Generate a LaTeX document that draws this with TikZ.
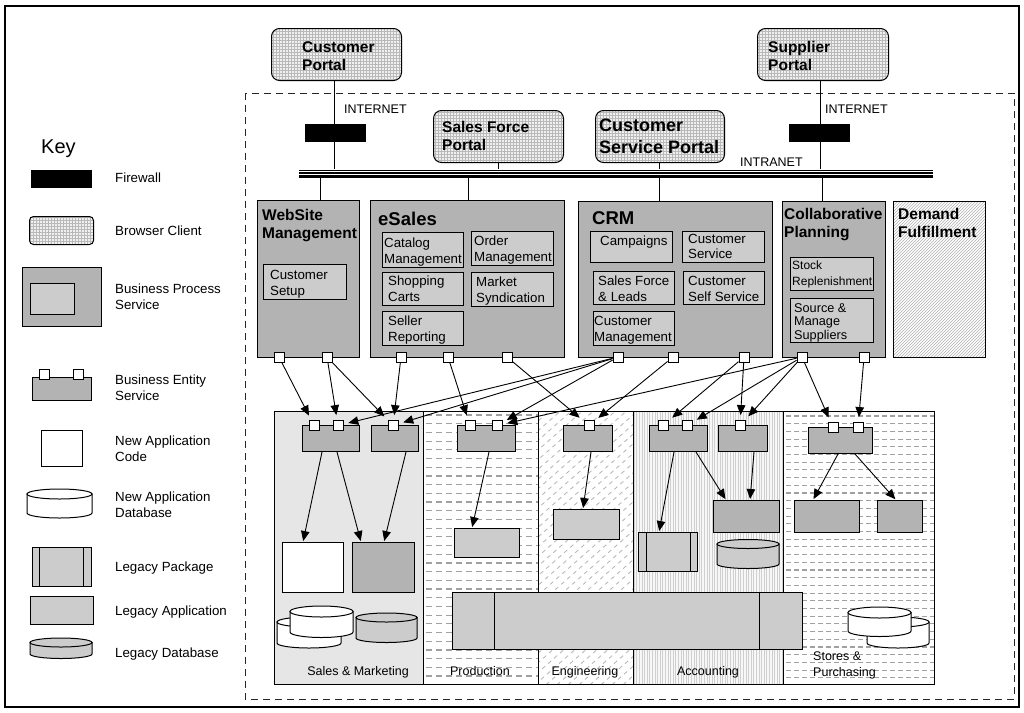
\documentclass[tikz,border=0pt]{standalone}
\usepackage{fontspec}
\setmainfont{Liberation Sans}
\usetikzlibrary{arrows.meta,patterns}
\definecolor{bpg}{HTML}{B3B3B3}
\definecolor{subg}{HTML}{CCCCCC}
\definecolor{smg}{HTML}{E6E6E6}
\definecolor{hatch}{HTML}{A0A0A0}
\newcommand{\fs}[2]{\fontsize{#1}{#2}\selectfont}
\newcommand{\bx}[6]{%
  \pgfmathsetmacro{\mybw}{#4-#2}\pgfmathsetmacro{\mybh}{#5-#3}%
  \node[box,#6,minimum width=\mybw,minimum height=\mybh] (#1) at (#2,#3) {};}
\newcommand{\mycyl}[6]{%
  \pgfmathsetmacro{\mycx}{(#1+#2)/2}\pgfmathsetmacro{\myrx}{(#2-#1)/2}%
  \draw[line width=1,fill=#5] (#1,#3) -- (#1,#4) arc[start angle=180,end angle=0,x radius=\myrx,y radius=#6] -- (#2,#3) -- cycle;
  \draw[line width=1,fill=#5] (\mycx,#3) ellipse [x radius=\myrx,y radius=#6];}
\begin{document}
\begin{tikzpicture}[x=1pt,y=-1pt,
  font=\fs{13.3}{16},
  box/.style={draw,line width=1,inner sep=0,anchor=north west},
  port/.style={draw,fill=white,line width=0.9,minimum size=10,inner sep=0},
  arr/.style={-{Triangle[length=10pt,width=8.5pt]},line width=0.9,shorten >=5pt},
  arrb/.style={-{Triangle[length=10pt,width=8.5pt]},line width=0.9,shorten >=1pt},
  txt/.style={anchor=north west,inner sep=0,align=left},
  ttl/.style={txt,font=\fs{15.5}{18}\bfseries},
  big/.style={txt,font=\fs{18.5}{22}\bfseries},
  sml/.style={txt,font=\fs{12.5}{16}},
  portal/.style={rounded corners=8,preaction={fill=gray!12},pattern=grid,pattern color=gray!55},
  link/.style={line width=1}]
\useasboundingbox (0,0) rectangle (1024,712);
\fill[white] (0,0) rectangle (1024,712);
\draw[line width=1.2] (5,6) rectangle (1019,707);
\draw[line width=1,dash pattern=on 7pt off 5pt,draw=black!85] (245,93) rectangle (1014,699);

% ---------- Key ----------
\node[txt,font=\fs{20}{24}] (keyt) at (41,140) {Key};
\bx{kfw}{31}{170}{91}{187}{fill=black}
\node[txt] (kfwl) at (115,173) {Firewall};
\bx{kbc}{29}{216}{93}{244}{portal,rounded corners=4}
\node[txt] (kbcl) at (115,226) {Browser Client};
\bx{kbp}{22}{267}{101}{326}{fill=bpg}
\bx{kbpi}{30}{283}{74}{314}{fill=subg}
\node[txt] (kbpl) at (115,284) {Business Process\\Service};
\bx{kbe}{32}{377}{91}{400}{fill=bpg}
\node[port] (kbe1) at (44,374) {};
\node[port] (kbe2) at (78,374) {};
\node[txt] (kbel) at (115,375) {Business Entity\\Service};
\bx{knc}{41}{430}{82}{466}{fill=white}
\node[txt] (kncl) at (115,436) {New Application\\Code};
\mycyl{27}{92}{494}{513}{white}{5}
\node[txt] (kndl) at (115,492) {New Application\\Database};
\bx{klp}{32}{547}{91}{586}{fill=subg}
\draw[link] (klp.north -| 39,0) -- (klp.south -| 39,0) (klp.north -| 83,0) -- (klp.south -| 83,0);
\node[txt] (klpl) at (115,562) {Legacy Package};
\bx{kla}{30}{596}{93}{624}{fill=subg}
\node[txt] (klal) at (115,606) {Legacy Application};
\mycyl{30}{92}{642.5}{654}{subg}{4.5}
\node[txt] (kldl) at (115,648) {Legacy Database};

% ---------- Portals and network ----------
\node[box,fill=black,draw=none,minimum width=634,minimum height=8] (bus) at (298,169) {};
\draw[white,line width=1] (bus.west |- 0,171.2) -- (bus.east |- 0,171.2) (bus.west |- 0,174.8) -- (bus.east |- 0,174.8);
\bx{cportal}{271}{28}{401}{80}{portal}
\node[ttl] (cportalt) at (302,41) {Customer\\Portal};
\bx{sportal}{757}{28}{888}{80}{portal}
\node[ttl] (sportalt) at (768,41) {Supplier\\Portal};
\bx{sfp}{433}{110}{563}{162}{portal}
\node[ttl] (sfpt) at (442,121) {Sales Force\\Portal};
\bx{csp}{595}{110}{724}{162}{portal}
\node[txt,font=\fs{18}{22.5}\bfseries] (cspt) at (599,118.5) {Customer\\Service Portal};
\draw[link] (cportal.south -| 334,0) -- (bus.north -| 334,0);
\draw[link] (sportal.south -| 820,0) -- (bus.north -| 820,0);
\draw[link] (sfp.south -| 498,0) -- (bus.north -| 498,0);
\draw[link] (csp.south -| 659,0) -- (bus.north -| 659,0);
\bx{fw1}{305}{124}{365}{141}{fill=black}
\bx{fw2}{789}{124}{849}{141}{fill=black}
\node[sml] (inet1) at (344,105) {INTERNET};
\node[sml] (inet2) at (825,105) {INTERNET};
\node[sml] (intra) at (740,158) {INTRANET};

% ---------- Business process services ----------
\bx{web}{257}{200}{359}{357}{fill=bpg}
\bx{esales}{370}{200}{564}{357}{fill=bpg}
\bx{crm}{578}{201}{772}{357}{fill=bpg}
\bx{collab}{782}{201}{885}{357}{fill=bpg}
\bx{demand}{893}{201}{985}{357}{pattern=north east lines,pattern color=gray!60}
\draw[link] (bus.south -| 320,0) -- (web.north -| 320,0);
\draw[link] (bus.south -| 468,0) -- (esales.north -| 468,0);
\draw[link] (bus.south -| 659,0) -- (crm.north -| 659,0);
\draw[link] (bus.south -| 822,0) -- (collab.north -| 822,0);

\node[ttl] (webt) at (262,209) {WebSite\\Management};
\node[big] (esalest) at (378,212) {eSales};
\node[big] (crmt) at (592,211) {CRM};
\node[ttl] (collabt) at (784,208) {Collaborative\\Planning};
\node[ttl] (demandt) at (898,208) {Demand\\Fulfillment};

\bx{csetup}{263}{264}{346}{299}{fill=subg}
\node[txt] (csetupt) at (270,270) {Customer\\Setup};
\bx{catm}{382}{232}{463}{267}{fill=subg}
\node[txt] (catmt) at (384,238) {Catalog\\Management};
\bx{ordm}{471}{231}{553}{265}{fill=subg}
\node[txt] (ordmt) at (474,236) {Order\\Management};
\bx{shop}{382}{272}{463}{305}{fill=subg}
\node[txt] (shopt) at (388,276) {Shopping\\Carts};
\bx{mkt}{471}{272}{553}{306}{fill=subg}
\node[txt] (mktt) at (476,277) {Market\\Syndication};
\bx{sell}{382}{311}{463}{345}{fill=subg}
\node[txt] (sellt) at (388,316) {Seller\\Reporting};

\bx{camp}{590}{231}{672}{262}{fill=subg}
\node[txt] (campt) at (600,236) {Campaigns};
\bx{csvc}{682}{231}{764}{262}{fill=subg}
\node[txt,font=\fs{13.3}{15}] (csvct) at (688,234) {Customer\\Service};
\bx{sfl}{593}{271}{674}{304}{fill=subg}
\node[txt] (sflt) at (598,276) {Sales Force\\\& Leads};
\bx{css}{683}{271}{764}{304}{fill=subg}
\node[txt] (csst) at (688,276) {Customer\\Self Service};
\bx{cmgmt}{593}{311}{674}{345}{fill=subg}
\node[txt] (cmgmtt) at (594,316) {Customer\\Management};

\bx{stock}{790}{257}{873}{290}{fill=subg}
\node[txt,font=\fs{12}{16}] (stockt) at (792,261) {Stock\\Replenishment};
\bx{source}{790}{298}{873}{342}{fill=subg}
\node[txt,font=\fs{12.7}{13.5}] (sourcet) at (794,303) {Source \&\\Manage\\Suppliers};

\foreach \n/\x in {wp1/279,wp2/327,ep1/401,ep2/448,ep3/507,cp1/618,cp2/673,cp3/744,lp1/802,lp2/864}
  \node[port] (\n) at (\x,357) {};

% ---------- Domain panels ----------
\fill[smg] (274,411) rectangle (423,684);
\begin{scope}
\clip (423,411) rectangle (538,684);
\foreach \yy in {415,423.7,...,684} \draw[hatch,line width=1.2,dash pattern=on 6pt off 4pt] (426,\yy) -- (538,\yy);
\end{scope}
\begin{scope}
\clip (538,411) rectangle (633,684);
\foreach \xx in {210,221,...,640} \draw[hatch!80,line width=0.8,dash pattern=on 4pt off 4pt] (\xx,690) -- ++(330,-290);
\end{scope}
\begin{scope}
\clip (633,411) rectangle (783,684);
\fill[gray!6] (633,411) rectangle (783,684);
\foreach \xx in {634,636.6,...,783} \draw[gray!38,line width=0.45] (\xx,411) -- (\xx,684);
\end{scope}
\begin{scope}
\clip (783,411) rectangle (934,684);
\foreach \yy in {416,423.7,...,684} \draw[hatch,line width=1.1,dash pattern=on 5pt off 3pt] (786,\yy) -- (934,\yy);
\end{scope}
\draw[line width=1] (274,411) rectangle (934,684);
\foreach \xx in {423,538,633,783} \draw[line width=1] (\xx,411) -- (\xx,684);

% ---------- Business entity services ----------
\bx{sm1}{302}{425}{359}{451}{fill=bpg}
\bx{sm2}{371}{425}{418}{451}{fill=bpg}
\bx{pr}{457}{425}{515}{451}{fill=bpg}
\bx{en}{563}{425}{612}{451}{fill=bpg}
\bx{ac1}{649}{425}{707}{451}{fill=bpg}
\bx{ac2}{718}{425}{767}{451}{fill=bpg}
\bx{st}{808}{427}{872}{453}{fill=bpg}
\foreach \n/\x in {sm1a/314,sm1b/338,sm2a/393,pra/470,prb/497,ena/589,ac1a/663,ac1b/687,ac2a/740}
  \node[port] (\n) at (\x,425.5) {};
\node[port] (sta) at (833,427.5) {};
\node[port] (stb) at (858,427.5) {};

\draw[arr] (wp1) -- (sm1a);
\draw[arr] (wp2) -- (sm1b);
\draw[arr] (wp2) -- (sm2a);
\draw[arr] (ep1) -- (sm2a);
\draw[arr] (ep2) -- (pra);
\draw[arr] (ep3) -- (ena);
\draw[arr] (cp1) -- (sm1b);
\draw[arr] (cp1) -- (sm2a);
\draw[arr] (cp1) -- (prb);
\draw[arr] (cp2) -- (ena);
\draw[arr] (cp3) -- (ac1a);
\draw[arr] (cp3) -- (ac2a);
\draw[arr] (lp1) -- (prb);
\draw[arr] (lp1) -- (ac1b);
\draw[arr] (lp1) -- (ac2a);
\draw[arr] (lp1) -- (sta);
\draw[arr] (lp2) -- (stb);

% ---------- Applications and databases ----------
\bx{nac}{282}{542}{343}{592}{fill=white}
\bx{smd}{352}{542}{414}{592}{fill=bpg}
\draw[arrb] (sm1.south -| 322,0) -- (nac.north -| 303,0);
\draw[arrb] (sm1.south -| 337,0) -- (smd.north -| 361,0);
\draw[arrb] (sm2.south -| 406,0) -- (smd.north -| 384,0);
\mycyl{277}{341}{622}{643}{white}{5}
\mycyl{290}{353}{611.5}{632}{white}{5.5}
\mycyl{356}{417}{617.5}{638}{subg}{4.5}

\bx{prapp}{454}{528}{519}{557}{fill=subg}
\draw[arrb] (pr.south -| 489,0) -- (prapp.north -| 472,0);
\bx{enapp}{553}{509}{619}{539}{fill=subg}
\draw[arrb] (en.south -| 591,0) -- (enapp.north -| 583,0);
\bx{acpkg}{638}{532}{697}{571}{fill=subg}
\draw[link] (acpkg.north -| 646,0) -- (acpkg.south -| 646,0) (acpkg.north -| 690,0) -- (acpkg.south -| 690,0);
\draw[arrb] (ac1.south -| 674,0) -- (acpkg.north -| 659,0);
\bx{acapp}{713}{500}{779}{532}{fill=bpg}
\draw[arrb] (ac1.south -| 696,0) -- (acapp.north -| 726,0);
\draw[arrb] (ac2.south -| 754,0) -- (acapp.north -| 750,0);
\mycyl{717}{779}{544}{564}{subg}{4.5}
\bx{stapp1}{794}{500}{859}{532}{fill=bpg}
\bx{stapp2}{877}{500}{922}{532}{fill=bpg}
\draw[arrb] (st.south -| 838,0) -- (stapp1.north -| 813,0);
\draw[arrb] (st.south -| 855,0) -- (stapp2.north -| 896,0);
\mycyl{867}{929}{622}{643}{white}{5}
\mycyl{848}{911}{612.5}{631}{white}{5.5}
\bx{bigpkg}{452}{592}{802}{649}{fill=subg}
\draw[link] (bigpkg.north -| 494,0) -- (bigpkg.south -| 494,0) (bigpkg.north -| 759,0) -- (bigpkg.south -| 759,0);

% ---------- Panel labels ----------
\node[sml,anchor=north] (smt) at (358,666) {Sales \& Marketing};
\node[sml,anchor=north] (prt) at (480,666) {Production};
\node[sml,anchor=north] (ent) at (585,666) {Engineering};
\node[sml,anchor=north] (act) at (708,666) {Accounting};
\node[sml] (stt) at (813,652) {Stores \&\\Purchasing};
\end{tikzpicture}
\end{document}
